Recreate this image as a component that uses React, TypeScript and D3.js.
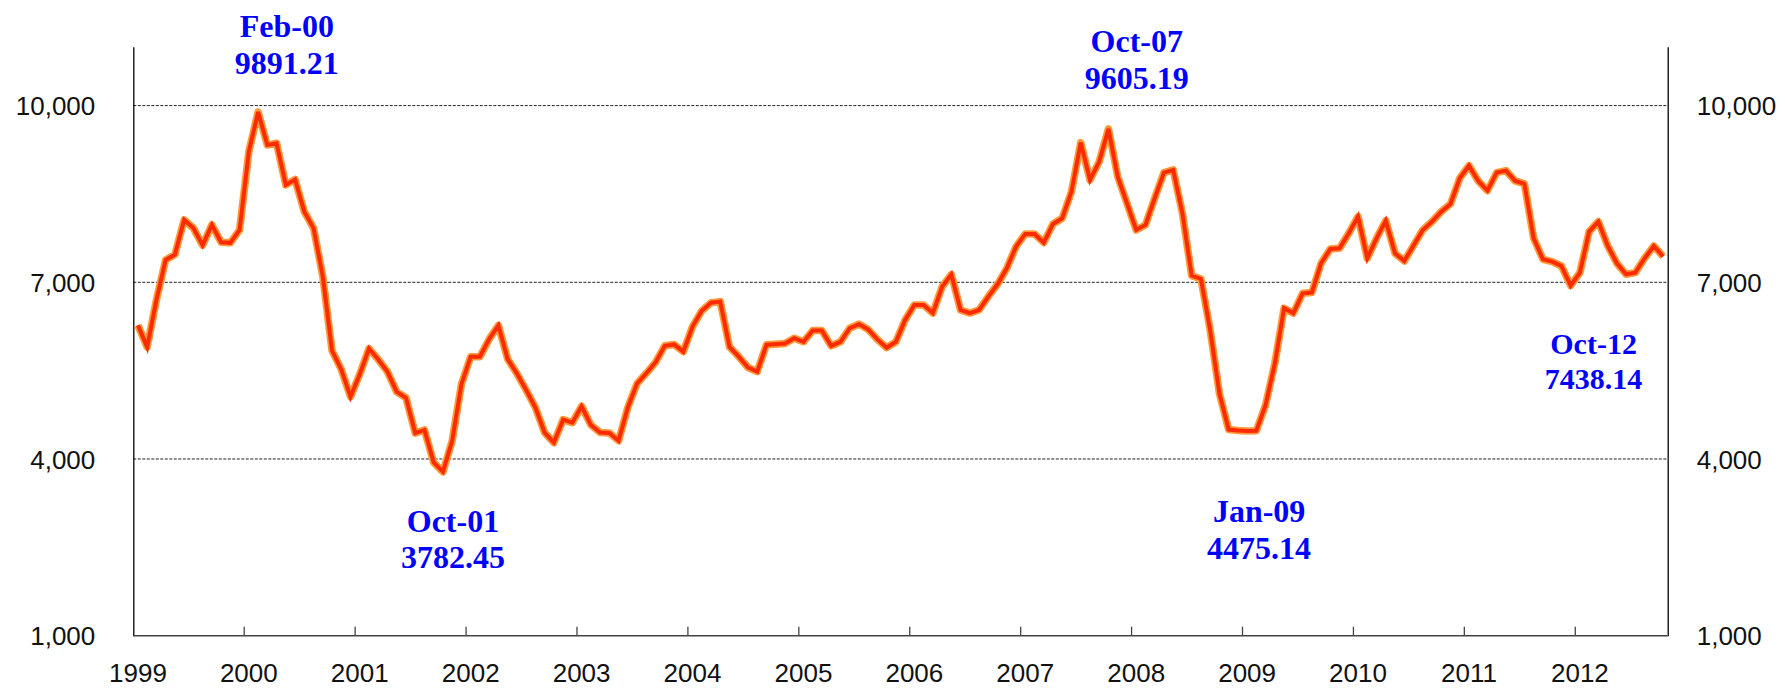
import * as d3 from "d3";
import React, { useEffect, useRef } from "react";

// monthly closes, Jan 1999 .. Oct 2012
const v1999 = [6270, 5900, 6700, 7380, 7470, 8060, 7920, 7630, 7975, 7680, 7670, 7890];
const v2000 = [9219, 9891.21, 9330, 9360, 8654, 8745, 8200, 7920, 7100, 5840, 5520, 5055];
const v2001 = [5440, 5875, 5690, 5480, 5140, 5040, 4440, 4493, 3940, 3782.45, 4310, 5270];
const v2002 = [5738, 5738, 6035, 6268, 5696, 5450, 5172, 4875, 4448, 4278, 4668, 4617];
const v2003 = [4895, 4578, 4450, 4442, 4310, 4875, 5280, 5455, 5640, 5922, 5945, 5823];
const v2004 = [6248, 6516, 6653, 6672, 5903, 5738, 5554, 5483, 5940, 5950, 5960, 6050];
const v2005 = [5990, 6180, 6180, 5920, 5990, 6220, 6290, 6200, 6030, 5890, 5990, 6360];
const v2006 = [6615, 6615, 6477, 6924, 7134, 6530, 6477, 6530, 6757, 6966, 7238, 7606];
const v2007 = [7821, 7821, 7674, 7991, 8087, 8540, 9372, 8738, 9049, 9605.19, 8794, 8342];
const v2008 = [7889, 7974, 8427, 8862, 8908, 8172, 7113, 7057, 6191, 5115, 4500, 4485];
const v2009 = [4475.14, 4480, 4917, 5625, 6560, 6474, 6813, 6825, 7323, 7566, 7578, 7832];
const v2010 = [8115, 7408, 7747, 8047, 7493, 7362, 7623, 7889, 8030, 8200, 8330, 8766];
const v2011 = [8981, 8721, 8557, 8862, 8896, 8721, 8670, 7747, 7391, 7351, 7277, 6944];
const v2012 = [7164, 7861, 8030, 7623, 7323, 7136, 7164, 7408, 7617, 7438.14];

const yearLabels = ["1999", "2000", "2001", "2002", "2003", "2004", "2005",
  "2006", "2007", "2008", "2009", "2010", "2011", "2012"];
const yTicks = [1000, 4000, 7000, 10000];

// annotated points: month index into the series
const noteIndex = [13, 33, 105, 120, 165];
const noteMonth = ["Feb-00", "Oct-01", "Oct-07", "Jan-09", "Oct-12"];
const noteValue = ["9891.21", "3782.45", "9605.19", "4475.14", "7438.14"];

const closes = [...v1999, ...v2000, ...v2001, ...v2002, ...v2003, ...v2004, ...v2005,
  ...v2006, ...v2007, ...v2008, ...v2009, ...v2010, ...v2011, ...v2012];

const App = () => {
  const chartRef = useRef(null);

  useEffect(() => {
    drawChart();
    return () => {
      d3.select(chartRef.current).selectAll("*").remove();
    };
  }, []);

  const drawChart = () => {
    const width = 1785;
    const height = 689;
    const margin = { top: 46.7, right: 117.3, bottom: 53.3, left: 133.3 };
    const innerWidth = width - margin.left - margin.right;
    const innerHeight = height - margin.top - margin.bottom;

    const svg = d3
      .select(chartRef.current)
      .append("svg")
      .attr("width", width)
      .attr("height", height)
      .style("position", "absolute")
      .style("left", 0)
      .style("top", 0)
      .style("background", "#fff");

    const chart = svg.append("g").attr("transform", `translate(${margin.left},${margin.top})`);

    const xScale = d3
      .scaleBand()
      .domain(closes.map((d, i) => i))
      .range([0, innerWidth])
      .padding(0);
    const half = xScale.bandwidth() / 2;
    const px = (i) => xScale(i) + half;

    const yScale = d3.scaleLinear().domain([1000, 11000]).range([innerHeight, 0]);

    // dashed gridlines
    chart
      .selectAll(".grid")
      .data(yTicks.filter((t) => t > 1000))
      .enter()
      .append("line")
      .attr("x1", 0)
      .attr("x2", innerWidth)
      .attr("y1", (d) => yScale(d))
      .attr("y2", (d) => yScale(d))
      .attr("stroke", "#222")
      .attr("stroke-width", 1)
      .attr("stroke-dasharray", "3,1.5");

    // left and right axes
    const leftAxis = chart
      .append("g")
      .call(d3.axisLeft(yScale).tickValues(yTicks).tickSize(0).tickPadding(38).tickFormat(d3.format(",")));
    const rightAxis = chart
      .append("g")
      .attr("transform", `translate(${innerWidth},0)`)
      .call(d3.axisRight(yScale).tickValues(yTicks).tickSize(0).tickPadding(29).tickFormat(d3.format(",")));
    [leftAxis, rightAxis].forEach((ax) => {
      ax.select(".domain").attr("stroke", "#000").attr("stroke-width", 1.3);
      ax.selectAll("text")
        .attr("font-family", "'Liberation Sans', Arial, sans-serif")
        .attr("font-size", 26)
        .attr("fill", "#111")
        .attr("dy", "0.35em");
    });

    // bottom axis: ticks at year boundaries, labels under January
    chart
      .append("line")
      .attr("x1", 0)
      .attr("x2", innerWidth)
      .attr("y1", innerHeight)
      .attr("y2", innerHeight)
      .attr("stroke", "#444")
      .attr("stroke-width", 1.4);

    const januaries = yearLabels.map((y, k) => k * 12);
    chart
      .selectAll(".xtick")
      .data(januaries.filter((i) => i > 0))
      .enter()
      .append("line")
      .attr("x1", (i) => xScale(i))
      .attr("x2", (i) => xScale(i))
      .attr("y1", innerHeight)
      .attr("y2", innerHeight - 9)
      .attr("stroke", "#444")
      .attr("stroke-width", 1.3);

    chart
      .selectAll(".xlabel")
      .data(januaries)
      .enter()
      .append("text")
      .attr("x", (i) => px(i))
      .attr("y", innerHeight + 46.5)
      .attr("text-anchor", "middle")
      .attr("font-family", "'Liberation Sans', Arial, sans-serif")
      .attr("font-size", 26)
      .attr("fill", "#111")
      .text((i, k) => yearLabels[k]);

    // the series, orange halo under a red core
    const line = d3
      .line()
      .x((d, i) => px(i))
      .y((d) => yScale(d));

    chart
      .append("path")
      .datum(closes)
      .attr("d", line)
      .attr("fill", "none")
      .attr("stroke", "#ff9a3c")
      .attr("stroke-width", 7.5)
      .attr("stroke-linejoin", "round");
    chart
      .append("path")
      .datum(closes)
      .attr("d", line)
      .attr("fill", "none")
      .attr("stroke", "#ff2a00")
      .attr("stroke-width", 4)
      .attr("stroke-linejoin", "miter");

    // annotations
    const noteDx = [28.7, 10, 28.3, 12, -69.5];
    const noteDy = [-75, 59.7, -76.6, 91.3, 97.5];
    const noteSize = [32, 32, 32, 32, 30];
    const notes = chart
      .selectAll(".note")
      .data(noteIndex)
      .enter()
      .append("text")
      .attr("text-anchor", "middle")
      .attr("font-family", "'Liberation Serif', 'Times New Roman', serif")
      .attr("font-weight", "bold")
      .attr("font-size", (d, k) => noteSize[k])
      .attr("fill", "#0000ff");
    notes
      .append("tspan")
      .attr("x", (i, k) => px(i) + noteDx[k])
      .attr("y", (i, k) => yScale(closes[i]) + noteDy[k])
      .text((i, k) => noteMonth[k]);
    notes
      .append("tspan")
      .attr("x", (i, k) => px(i) + noteDx[k])
      .attr("dy", (d, k) => (noteSize[k] === 30 ? 35.3 : 36.6))
      .text((i, k) => noteValue[k]);
  };

  return <div ref={chartRef} />;
};

export default App;
